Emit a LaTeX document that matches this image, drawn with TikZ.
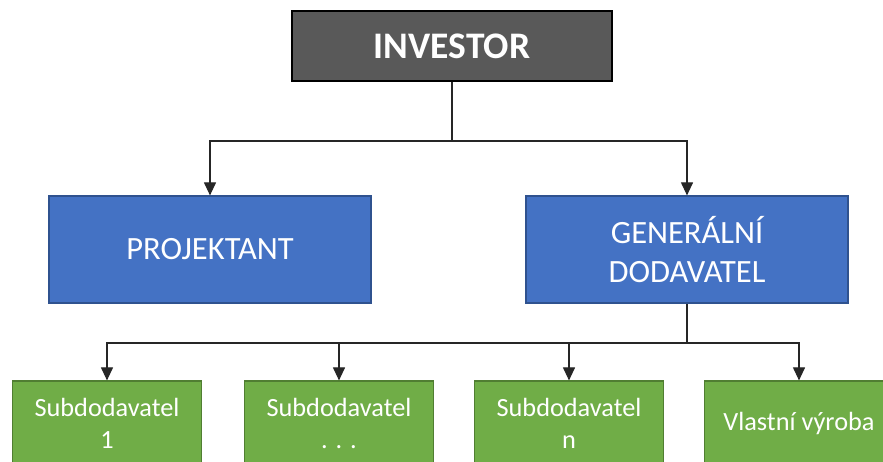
\documentclass[tikz,border=0pt]{standalone}
\usepackage{fontspec}
\setmainfont{Carlito}
\usetikzlibrary{arrows.meta}
\definecolor{invfill}{HTML}{595959}
\definecolor{bluefill}{HTML}{4472C4}
\definecolor{blueline}{HTML}{2F528F}
\definecolor{greenfill}{HTML}{70AD47}
\definecolor{greenline}{HTML}{507E32}
\tikzset{
  invbox/.style={draw=black, line width=2.6pt, fill=invfill, text=white, minimum width=320pt, minimum height=70pt, inner sep=0pt, font=\fontsize{37.5}{44}\selectfont\bfseries},
  bluebox/.style={draw=blueline, line width=1.2pt, fill=bluefill, text=white, minimum width=322pt, minimum height=107pt, inner sep=0pt, align=center, font=\fontsize{32.5}{38.5}\selectfont},
  greenbox/.style={draw=greenline, line width=1.2pt, fill=greenfill, text=white, minimum width=189pt, minimum height=84pt, inner sep=0pt, align=center, font=\fontsize{26.3}{32}\selectfont},
  conn/.style={draw=black!85, line width=1.1pt},
  arr/.style={conn, -{Triangle[length=13pt, width=12pt]}}
}
\begin{document}
\begin{tikzpicture}[x=1pt, y=-1pt]
\useasboundingbox[clip] (0,0) rectangle (883,461);
\fill[white] (0,0) rectangle (883,461);
\node[invbox] (inv) at (452,46) {INVESTOR};
\node[bluebox] (proj) at (210,249.5) {PROJEKTANT};
\node[bluebox] (gen) at (687,249.5) {GENERÁLNÍ\\DODAVATEL};
\node[greenbox] (s1) at (107,423) {Subdodavatel\\1};
\node[greenbox] (s2) at (339,423) {Subdodavatel\\. . .};
\node[greenbox] (s3) at (569,423) {Subdodavatel\\n};
\node[greenbox] (s4) at (799,423) {Vlastní výroba};
\coordinate (j1) at (inv.south |- 0,141);
\coordinate (j2) at (gen.south |- 0,343);
\draw[conn] (inv.south) -- (j1);
\draw[arr] (j1) -| (proj.north);
\draw[arr] (j1) -| (gen.north);
\draw[conn] (gen.south) -- (j2);
\draw[arr] (j2) -| (s1.north);
\draw[arr] (j2) -| (s2.north);
\draw[arr] (j2) -| (s3.north);
\draw[arr] (j2) -| (s4.north);
\end{tikzpicture}
\end{document}
